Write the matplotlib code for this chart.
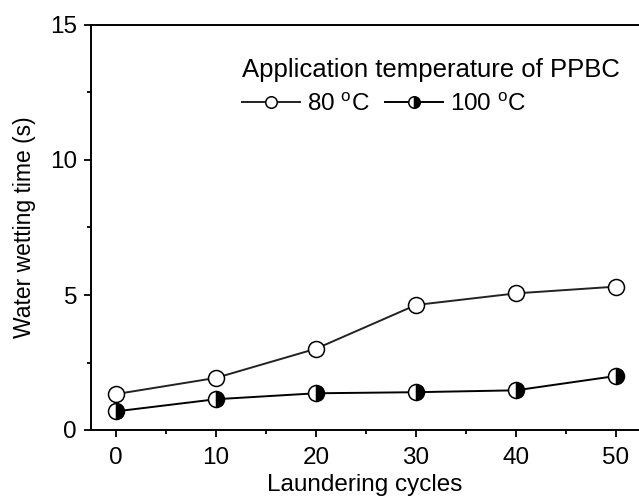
import matplotlib
matplotlib.use('Agg')
import matplotlib.pyplot as plt
from matplotlib.ticker import MultipleLocator

plt.rcParams['font.family'] = ['Liberation Sans', 'DejaVu Sans']
plt.rcParams['mathtext.fontset'] = 'custom'
plt.rcParams['mathtext.rm'] = 'Liberation Sans'

cycles = [0, 10, 20, 30, 40, 50]
t80 = [1.33, 1.93, 3.01, 4.63, 5.06, 5.31]
t100 = [0.69, 1.14, 1.36, 1.40, 1.47, 2.00]
labels = [r'80 $^{\mathrm{o}}$C', r'100 $^{\mathrm{o}}$C']

fs = 17.5

fig = plt.figure(figsize=(6.39, 5.0), dpi=100)
ax = fig.add_axes([91/639, 70/500, 548/639, 405/500])

ax.plot(cycles, t80, '-o', color='#222222', lw=1.4, ms=11.5,
        mfc='white', mec='black', mew=1.1, label=labels[0])
ax.plot(cycles, t100, '-o', color='black', lw=1.4, ms=11.5,
        fillstyle='right', mfc='black', mfcalt='white', mec='black', mew=1.1,
        label=labels[1])

ax.set_xlim(-2.5, 52.3)
ax.set_ylim(0, 15)
ax.xaxis.set_major_locator(MultipleLocator(10))
ax.xaxis.set_minor_locator(MultipleLocator(5))
ax.yaxis.set_major_locator(MultipleLocator(5))
ax.yaxis.set_minor_locator(MultipleLocator(2.5))
ax.tick_params(which='both', direction='out', labelsize=fs, width=1.3, pad=5)
ax.tick_params(axis='x', pad=7)
ax.tick_params(which='major', length=5)
ax.tick_params(which='minor', length=3)
ax.tick_params(top=False, right=False)
for s in ['left', 'bottom', 'top']:
    ax.spines[s].set_linewidth(1.4)
ax.spines['right'].set_visible(False)

ax.set_xlabel('Laundering cycles', fontsize=fs, labelpad=4)
ax.set_ylabel('Water wetting time (s)', fontsize=16.5, labelpad=10)

leg = ax.legend(loc='upper left', bbox_to_anchor=(232/639, 1 - 48/500),
                bbox_transform=fig.transFigure, ncol=2, frameon=False,
                title='Application temperature of PPBC', fontsize=fs,
                title_fontsize=18.5, markerscale=0.72, handlelength=2.4,
                handletextpad=0.3, columnspacing=0.6, borderaxespad=0,
                labelspacing=0.45)
leg._legend_box.align = 'left'

fig.savefig('out.png', dpi=100)
